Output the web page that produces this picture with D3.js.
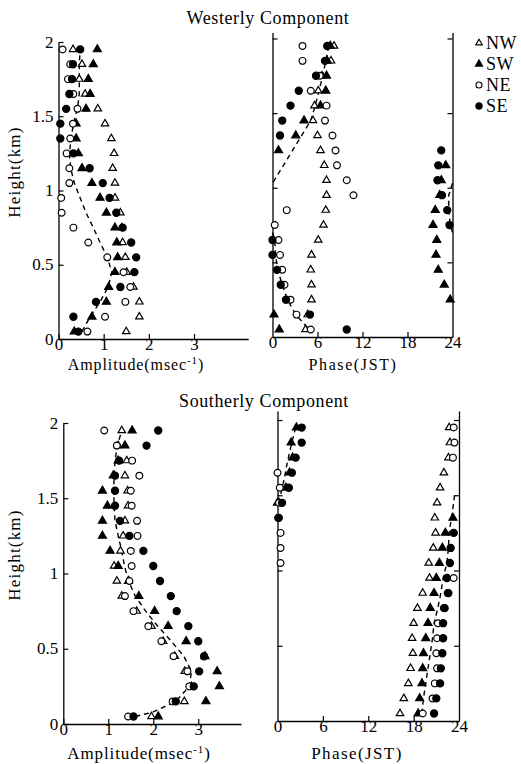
<!DOCTYPE html>
<html><head><meta charset="utf-8">
<script src="https://cdn.jsdelivr.net/npm/d3@7"></script>
<style>body{margin:0;background:#fff}svg{display:block}</style>
</head><body>
<script>
// ---------- data ----------
const heights = [0.05,0.15,0.25,0.35,0.45,0.55,0.65,0.75,0.85,0.95,1.05,1.15,1.25,1.35,1.45,1.55,1.65,1.75,1.85,1.95];
const seriesNames = ["NW","SW","NE","SE"];

// Westerly amplitude (m/s)
const wAmpNW = [1.50,1.79,1.79,1.66,1.51,1.48,1.42,1.40,1.37,1.25,1.25,1.20,1.23,1.17,1.03,0.87,0.59,0.46,0.52,0.32];
const wAmpSW = [0.35,0.74,1.06,1.11,1.25,1.31,1.29,1.25,1.06,0.92,0.74,0.52,0.44,0.39,0.39,0.61,0.70,0.66,0.77,0.86];
const wAmpNE = [0.64,1.03,1.48,1.59,1.44,1.08,0.66,0.33,0.07,0.06,0.24,0.24,0.18,0.26,0.32,0.42,0.33,0.21,0.26,0.09];
const wAmpSE = [0.44,0.33,0.83,1.37,1.68,1.72,1.61,1.42,1.28,1.13,0.98,0.69,0.33,0.04,0.04,0.17,0.24,0.30,0.32,0.48];
const wAmpMean = [0.52,0.70,0.92,1.10,1.18,1.08,0.92,0.77,0.61,0.48,0.35,0.27,0.24,0.28,0.33,0.42,0.46,0.46,0.46,0.48];

// Westerly phase (JST hour)
const wPhNW = [4.4,4.7,5.2,5.2,5.1,5.2,6.1,6.8,7.1,7.2,7.2,6.9,6.4,6.0,5.4,5.6,6.1,6.6,7.8,8.2];
const wPhSW = [0.9,0.2,23.7,22.9,22.1,21.8,21.9,21.4,21.7,22.3,22.5,23.1,0.8,3.1,4.2,6.4,7.1,7.2,7.3,7.7];
const wPhNE = [5.1,3.2,2.4,1.6,1.3,1.0,0.8,0.3,1.9,10.8,9.9,8.6,8.4,8.0,7.0,7.2,5.1,6.3,4.0,4.0];
const wPhSE = [9.9,5.0,1.8,1.1,0.6,0.0,0.0,23.6,23.3,22.6,22.0,22.1,22.5,1.0,1.3,2.4,3.5,5.8,7.0,7.3];
const wPhMean1 = [[7.5,1.95],[7.1,1.85],[6.7,1.75],[6.2,1.65],[5.7,1.55],[5.1,1.45],[0,1.03]];
const wPhMean2 = [[24,1.03],[23.5,0.95],[23.5,0.85],[23.7,0.75],[24,0.70]];
const wPhMean3 = [[0,0.70],[0.3,0.65],[0.4,0.55],[0.7,0.45],[1.3,0.35],[2.0,0.25],[3.1,0.15],[4.9,0.05]];

// Southerly amplitude (m/s)
const sAmpNW = [1.96,2.69,2.85,2.70,2.48,2.22,1.96,1.63,1.30,1.19,1.13,1.27,1.33,1.37,1.44,1.43,1.37,1.41,1.22,1.30];
const sAmpSW = [2.11,3.17,3.47,3.42,3.15,2.73,2.33,2.03,1.68,1.45,1.22,1.04,0.87,0.87,0.98,0.87,1.11,1.22,1.37,1.53];
const sAmpNE = [1.44,2.43,2.80,2.76,2.45,2.18,1.89,1.56,1.37,1.47,1.52,1.50,1.65,1.64,1.52,1.50,1.69,1.53,1.19,0.91];
const sAmpSE = [1.56,2.50,2.90,3.02,3.13,3.00,2.78,2.52,2.39,2.15,2.00,1.78,1.47,1.26,1.15,1.15,1.15,1.24,1.85,2.11];
const sAmpMean = [[1.6,0.05],[2.0,0.08],[2.5,0.15],[2.8,0.25],[2.85,0.35],[2.68,0.45],[2.4,0.55],[2.1,0.65],[1.83,0.75],[1.6,0.85],[1.45,0.95],[1.36,1.05],[1.3,1.15],[1.22,1.25],[1.15,1.35],[1.13,1.45],[1.12,1.55],[1.13,1.65],[1.15,1.75],[1.2,1.85],[1.3,1.95]];

// Southerly phase (JST hour)
const sPhNW = [16.2,16.7,17.3,17.6,17.9,17.8,18.0,18.5,19.2,20.1,20.0,20.6,20.9,20.8,21.1,21.5,22.0,22.6,22.8,22.7];
const sPhSW = [18.6,18.8,19.1,19.2,19.3,19.6,19.9,20.2,20.7,21.0,21.4,21.8,22.2,23.2,0.0,1.1,1.6,2.0,1.8,2.5];
const sPhNE = [19.2,20.5,20.8,21.1,21.0,21.1,21.2,22.0,22.5,23.3,0.4,0.4,0.4,0.2,0.2,0.3,0.0,23.2,23.4,23.3];
const sPhSE = [20.7,21.0,21.5,21.6,21.8,21.9,21.9,22.1,22.6,22.4,22.8,22.9,23.3,0.1,0.6,1.5,1.9,2.4,3.2,3.2];
const sPhMean1 = [[2.4,1.95],[1.8,1.83],[1.3,1.72],[0.9,1.61],[0.4,1.50],[0,1.45]];
const sPhMean2 = [[23.4,1.50],[23.3,1.45],[23.0,1.35],[22.7,1.25],[22.6,1.15],[22.4,1.05],[21.9,0.95],[21.6,0.85],[21.2,0.75],[20.7,0.65],[20.5,0.55],[20.2,0.45],[19.9,0.35],[19.6,0.25],[19.3,0.15],[19.1,0.05]];

const ampTicks = [0,1,2,3];
const phaseTicks = [0,6,12,18,24];
const heightTicks = [0,0.5,1,1.5,2];
const heightTickLabels = ["0","0.5","1","1.5","2"];

// ---------- drawing ----------
const FONT = "'Liberation Serif','Times New Roman',serif";
const svg = d3.select("body").append("svg").attr("width",521).attr("height",764)
  .style("font-family",FONT);

const sym = {
  NW: {type:d3.symbolTriangle, fill:"#fff", size:24},
  SW: {type:d3.symbolTriangle, fill:"#000", size:28},
  NE: {type:d3.symbolCircle, fill:"#fff", size:36},
  SE: {type:d3.symbolCircle, fill:"#000", size:40}
};

function drawMarkers(g, x, y, name, vals){
  const s = sym[name];
  g.append("g").selectAll("path").data(vals.map((v,i)=>[v,heights[i]])).join("path")
    .attr("transform", d=>`translate(${x(d[0])},${y(d[1])})`)
    .attr("d", d3.symbol().type(s.type).size(s.size))
    .attr("fill", s.fill).attr("stroke","#000").attr("stroke-width",1.2);
}
function dashed(g, x, y, pts){
  g.append("path").datum(pts)
    .attr("d", d3.line().x(d=>x(d[0])).y(d=>y(d[1])))
    .attr("fill","none").attr("stroke","#000").attr("stroke-width",1.4)
    .attr("stroke-dasharray","5,4");
}
function styleAxis(sel){
  sel.selectAll("path.domain").attr("stroke","#000").attr("stroke-width",1.3);
  sel.selectAll(".tick line").attr("stroke","#000").attr("stroke-width",1.2);
  sel.selectAll("text").attr("font-family",FONT).attr("font-size",17).attr("fill","#000");
  sel.attr("font-family",null).attr("font-size",null);
}

function ampPanel(x, y, series, mean, isPairs){
  const g = svg.append("g");
  const yAxis = g.append("g").attr("transform",`translate(${x(0)},0)`)
    .call(d3.axisLeft(y).tickValues(heightTicks).tickFormat((d,i)=>heightTickLabels[i])
      .tickSizeInner(-5).tickSizeOuter(0).tickPadding(5));
  styleAxis(yAxis);
  yAxis.selectAll(".tick text").attr("dy","0.3em");
  const xAxis = g.append("g").attr("transform",`translate(0,${y(0)})`)
    .call(d3.axisBottom(x).tickValues(ampTicks).tickFormat(d3.format("d"))
      .tickSizeInner(-5).tickSizeOuter(0).tickPadding(0));
  styleAxis(xAxis);
  xAxis.selectAll(".tick text").attr("dy","0.62em");
  dashed(g, x, y, isPairs ? mean : mean.map((v,i)=>[v,heights[i]]));
  seriesNames.forEach((n,k)=>drawMarkers(g,x,y,n,series[k]));
}
function phasePanel(x, y, series, means){
  const g = svg.append("g");
  const la = g.append("g").attr("transform",`translate(${x(0)},0)`)
    .call(d3.axisLeft(y).tickValues(heightTicks.slice(1)).tickFormat("").tickSizeInner(-5).tickSizeOuter(0));
  styleAxis(la);
  const ra = g.append("g").attr("transform",`translate(${x(24)},0)`)
    .call(d3.axisRight(y).tickValues(heightTicks.slice(1)).tickFormat("").tickSizeInner(-5).tickSizeOuter(0));
  styleAxis(ra);
  const xa = g.append("g").attr("transform",`translate(0,${y(0)})`)
    .call(d3.axisBottom(x).tickValues(phaseTicks).tickFormat(d3.format("d"))
      .tickSizeInner(-5).tickSizeOuter(0).tickPadding(0));
  styleAxis(xa);
  xa.selectAll(".tick text").attr("dy","0.66em");
  xa.selectAll(".tick line").filter(d=>d===0||d===24).remove();
  means.forEach(m=>dashed(g,x,y,m));
  seriesNames.forEach((n,k)=>drawMarkers(g,x,y,n,series[k]));
}

// scales
const xTL = d3.scaleLinear().domain([0,4.2]).range([58.5,248.2]);
const yTL = d3.scaleLinear().domain([0,2]).range([339,42]);
const xTR = d3.scaleLinear().domain([0,24]).range([272.5,452.5]);
const yTR = d3.scaleLinear().domain([0,2.04]).range([337,32.5]);
const xBL = d3.scaleLinear().domain([0,3.95]).range([63.3,241]);
const yBL = d3.scaleLinear().domain([0,2]).range([724,423]);
const xBR = d3.scaleLinear().domain([0,24]).range([277.5,459]);
const yBR = d3.scaleLinear().domain([0,2.06]).range([721,411]);

ampPanel(xTL, yTL, [wAmpNW,wAmpSW,wAmpNE,wAmpSE], wAmpMean, false);
phasePanel(xTR, yTR, [wPhNW,wPhSW,wPhNE,wPhSE], [wPhMean1,wPhMean2,wPhMean3]);
ampPanel(xBL, yBL, [sAmpNW,sAmpSW,sAmpNE,sAmpSE], sAmpMean, true);
phasePanel(xBR, yBR, [sPhNW,sPhSW,sPhNE,sPhSE], [sPhMean1,sPhMean2]);

// titles
function txt(x,y,s,opts={}){
  const t = svg.append("text").attr("x",x).attr("y",y).attr("font-size",opts.size||17)
    .attr("text-anchor",opts.anchor||"middle").attr("fill","#000").text(s);
  if(opts.ls) t.attr("letter-spacing",opts.ls);
  if(opts.rot) t.attr("transform",`rotate(-90,${x},${y})`);
  return t;
}
txt(268,24,"Westerly Component",{size:18,ls:0.6});
txt(264,407,"Southerly Component",{size:18,ls:0.6});
txt(20,172,"Height(km)",{rot:true,ls:1.2});
txt(20,555,"Height(km)",{rot:true,ls:1.2});
function ampLabel(cx,y,fs){
  const t = svg.append("text").attr("x",cx).attr("y",y).attr("font-size",fs)
    .attr("text-anchor","middle").attr("letter-spacing",0.9).attr("fill","#000");
  t.append("tspan").text("Amplitude(msec");
  t.append("tspan").attr("font-size",11).attr("dy",-6).text("-1");
  t.append("tspan").attr("dy",6).text(")");
}
ampLabel(136,370,16);
ampLabel(139,759,17);
txt(353,370,"Phase(JST)",{size:16,ls:1.6});
txt(357,759,"Phase(JST)",{ls:1.4});

// legend
const legY = [43,64,85,106];
seriesNames.forEach((n,i)=>{
  const s = sym[n];
  svg.append("path").attr("transform",`translate(479,${legY[i]})`)
    .attr("d", d3.symbol().type(s.type).size(s.size*0.8))
    .attr("fill",s.fill).attr("stroke","#000").attr("stroke-width",1.1);
  txt(486,legY[i]+6,n,{anchor:"start",size:18,ls:0.5});
});
</script>
</body></html>
